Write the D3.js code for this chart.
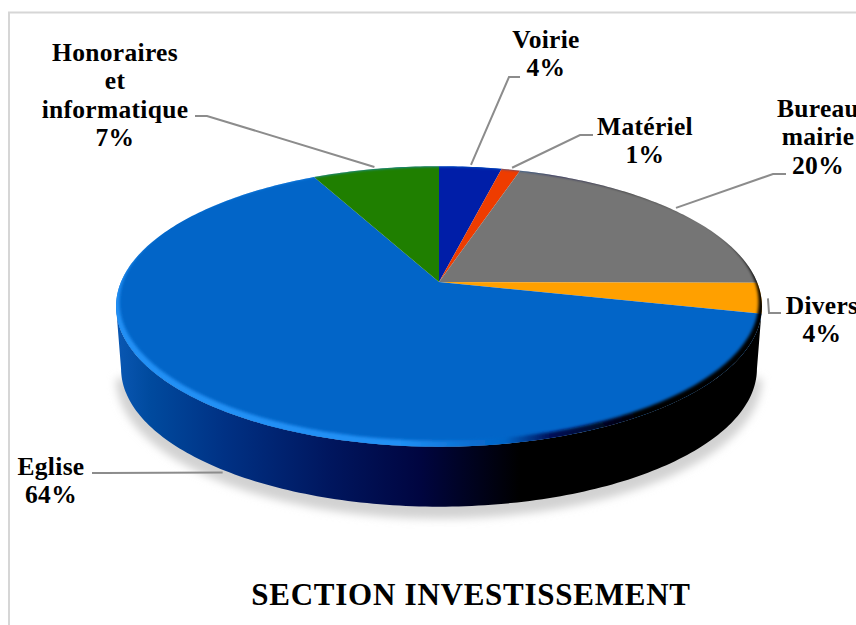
<!DOCTYPE html>
<html>
<head>
<meta charset="utf-8">
<script src="https://cdn.jsdelivr.net/npm/d3@7"></script>
<style>
  html, body { margin: 0; padding: 0; background: #fff; overflow: hidden; }
  svg { display: block; }
  text { font-family: "Liberation Serif", serif; font-weight: 700; fill: #000; }
</style>
</head>
<body>
<div id="chart"></div>
<script>
// Section investissement: perspective 3D pie
const categories = ['Voirie', 'Matériel', 'Bureau mairie', 'Divers', 'Eglise', 'Honoraires et informatique'];
const values = [3.7, 1.1, 20.3, 3.5, 63.9, 7.5];
const percentLabels = ['4%', '1%', '20%', '4%', '64%', '7%'];
const sliceColors = ['#001ea8', '#ee3c00', '#757575', '#ffa000', '#0265c8', '#1f7f00'];
const titleText = 'SECTION INVESTISSEMENT';

// label placement, same order as categories
// Bureau and Divers run past the right edge on purpose, the reference crops them too
const labelLines = [['Voirie'], ['Matériel'], ['Bureau', 'mairie'], ['Divers'], ['Eglise'], ['Honoraires', 'et', 'informatique']];
const labelCenterX = [546, 645, 818, 822, 51, 115];
const labelFirstBase = [48, 135, 117, 314, 475, 61];
const elbowStart = [[520, 77], [593, 135], [786, 174], [781, 313], [92, 473], [195, 116]];
const elbowMid = [[509, 77], [580, 135], [773, 174], [769, 313], [104, 473], [207, 116]];
const anchorRadius = [1.02, 1.02, 1.02, 1.02, 0.96, 1.02];
const anchorDepth = [0, 0, 0, 0, 72, 0];

const W = 856, H = 625;
const P = { cx: 439, cy: 282, a: 318, b: 136, k: 0.174, depth: 63 };
const LINE_H = 28.3;

// theta is clockwise from 12 o'clock, same as d3.pie
function project(theta, r = 1, dy = 0) {
  const X = r * Math.sin(theta), Y = r * Math.cos(theta), w = 1 + P.k * Y;
  return [P.cx + P.a * X / w, P.cy - P.b * Y / w + dy];
}

const line = d3.line();
const TAU = Math.PI * 2;
const STEP = Math.PI / 180;
function rim(a0, a1, r = 1, dy = 0) {
  const pts = d3.range(a0, a1, STEP).map(t => project(t, r, dy));
  pts.push(project(a1, r, dy));
  return pts;
}

const svg = d3.select('#chart').append('svg').attr('width', W).attr('height', H);
const defs = svg.append('defs');

function hGradient(id, stops) {
  const xs = d3.scaleLinear().domain([115, 762]).range([0, 1]);
  defs.append('linearGradient').attr('id', id)
    .attr('gradientUnits', 'userSpaceOnUse')
    .attr('x1', 115).attr('x2', 762).attr('y1', 0).attr('y2', 0)
    .selectAll('stop').data(stops).join('stop')
    .attr('offset', d => xs(d[0])).attr('stop-color', d => d[1]);
}
hGradient('wallGrad', [[115, '#0a58b4'], [150, '#004a9e'], [225, '#003184'], [330, '#00165e'], [420, '#000540'], [520, '#000000'], [762, '#000000']]);
hGradient('bevelGrad', [[115, '#2090f5'], [400, '#2090f5'], [470, '#0a6ed2'], [505, '#0265c8'], [550, '#001058'], [640, '#000000'], [762, '#000000']]);

defs.append('filter').attr('id', 'blurShadow').attr('x', '-10%').attr('y', '-10%').attr('width', '120%').attr('height', '120%')
  .append('feGaussianBlur').attr('stdDeviation', 4);
defs.append('filter').attr('id', 'blurBevel').attr('x', '-5%').attr('y', '-5%').attr('width', '110%').attr('height', '110%')
  .append('feGaussianBlur').attr('stdDeviation', 1.5);
defs.append('clipPath').attr('id', 'faceClip').append('path')
  .attr('d', line(rim(0, TAU)) + 'Z');

// frame
svg.append('path').attr('d', line([[9, H], [9, 12.5], [W, 12.5]]))
  .attr('fill', 'none').attr('stroke', '#d6d6d6').attr('stroke-width', 2);

// the widest points of the rim sit a little below the 3 and 9 o'clock angles
const WALL_A0 = Math.PI - Math.acos(P.k), WALL_A1 = Math.PI + Math.acos(P.k);

// ground shadow
svg.append('path')
  .attr('d', line(rim(WALL_A0, WALL_A1, 1.0, P.depth + 9)) + 'Z')
  .attr('fill', '#d2d2d2').attr('filter', 'url(#blurShadow)');

// side wall
const wallTop = rim(WALL_A0, WALL_A1, 1);
const wallLow = rim(WALL_A0, WALL_A1, 0.985, P.depth);
svg.append('path')
  .attr('d', line(wallTop.concat(wallLow.slice().reverse())) + 'Z')
  .attr('fill', 'url(#wallGrad)');

// top face slices
const pie = d3.pie().sort(null).value(d => d).startAngle(0).endAngle(TAU);
const arcs = pie(values);
svg.append('g').selectAll('path').data(arcs).join('path')
  .attr('d', d => line([[P.cx, P.cy]].concat(rim(d.startAngle, d.endAngle))) + 'Z')
  .attr('fill', (d, i) => sliceColors[i]);

// bevel ring along the rim
const inner = rim(0, TAU, 0.99, -4);
svg.append('g').attr('clip-path', 'url(#faceClip)')
  .append('path')
  .attr('d', line(rim(0, TAU, 1.02, 2)) + 'Z' + line(inner) + 'Z')
  .attr('fill-rule', 'evenodd')
  .attr('fill', 'url(#bevelGrad)')
  .attr('filter', 'url(#blurBevel)');

// leader lines
svg.append('g').selectAll('path').data(arcs).join('path')
  .attr('d', (d, i) => {
    const mid = (d.startAngle + d.endAngle) / 2;
    return line([elbowStart[i], elbowMid[i], project(mid, anchorRadius[i], anchorDepth[i])]);
  })
  .attr('fill', 'none').attr('stroke', '#8c8c8c').attr('stroke-width', 2);

// labels
const labels = svg.append('g').style('font-size', '25.5px').style('letter-spacing', '0.3px').attr('text-anchor', 'middle');
categories.forEach((c, i) => {
  const rows = labelLines[i].concat(percentLabels[i]);
  labels.append('text').selectAll('tspan').data(rows).join('tspan')
    .attr('x', labelCenterX[i])
    .attr('y', (r, j) => labelFirstBase[i] + j * LINE_H)
    .text(r => r);
});

// title
svg.append('text').attr('x', 471).attr('y', 605).attr('text-anchor', 'middle')
  .style('font-size', '31px').style('letter-spacing', '0.75px').text(titleText);
</script>
</body>
</html>
